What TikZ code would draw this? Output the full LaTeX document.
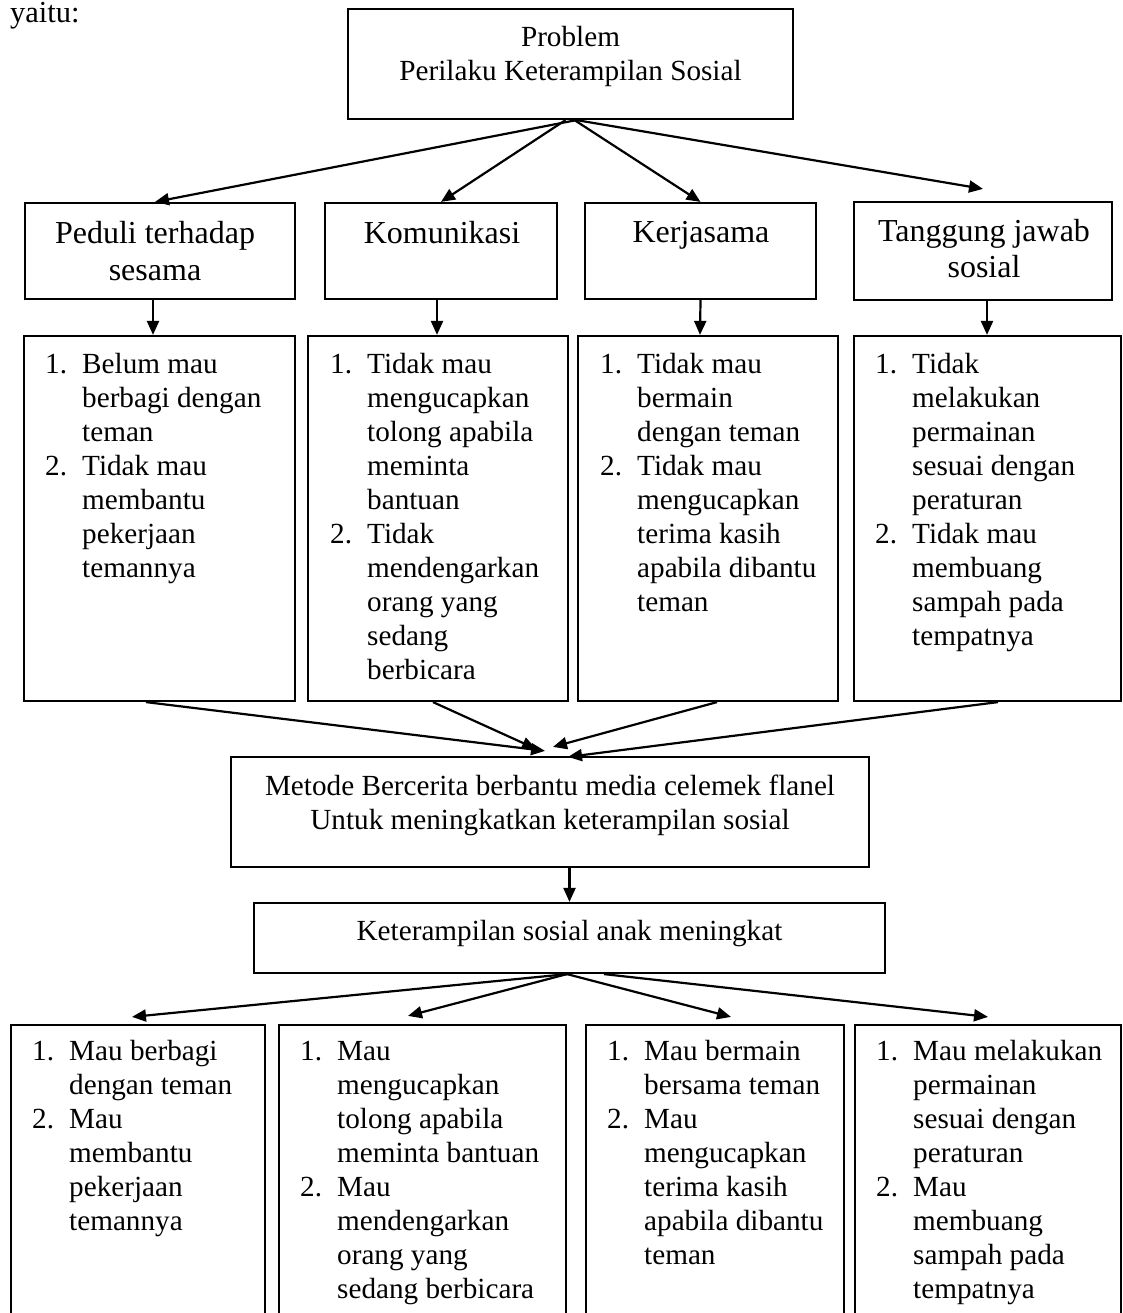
\documentclass[tikz,border=0pt]{standalone}
\usepackage{fontspec}
\setmainfont{Liberation Serif}
\usetikzlibrary{arrows.meta,fit}
\newcommand{\lstbox}[1]{\begin{tabular}[t]{@{}p{37pt}@{}l@{}}#1\end{tabular}}
\newcommand{\ctrbox}[1]{\begin{tabular}[t]{@{}c@{}}#1\end{tabular}}
\begin{document}
\begin{tikzpicture}[x=1pt,y=-1pt,
  every node/.style={font=\fontsize{29.2pt}{34pt}\selectfont},
  box/.style={draw, line width=2.2pt, inner sep=0pt},
  arr/.style={line width=2.2pt, -{Triangle[length=14pt,width=12pt]}},
  txt/.style={inner sep=0pt, anchor=base},
  big/.style={font=\fontsize{32pt}{36pt}\selectfont},
  lst/.style={inner sep=0pt, anchor=base west}]
\clip (0,0) rectangle (1123,1313);
\fill[white] (0,0) rectangle (1123,1313);

\node[lst, font=\fontsize{30.5pt}{35pt}\selectfont] (yaitu) at (10,23) {yaitu:};

% top box
\node[box, fit={(348,9) (793,119)}] (top) {};
\node[txt] (topt) at (570.5,47) {\ctrbox{Problem\\Perilaku Keterampilan Sosial}};

% row 2
\node[box, fit={(25,203) (295,299)}] (r2a) {};
\node[box, fit={(325,203) (557,299)}] (r2b) {};
\node[box, fit={(585,203) (816,299)}] (r2c) {};
\node[box, fit={(854,202) (1112,300)}] (r2d) {};
\node[txt, big] (r2at) at (155,244) {\ctrbox{Peduli terhadap\\sesama}};
\node[txt, big] (r2bt) at (442,244) {Komunikasi};
\node[txt, big] (r2ct) at (701,243) {Kerjasama};
\node[txt, big] (r2dt) at (984,242) {\ctrbox{Tanggung jawab\\sosial}};

% row 3
\node[box, fit={(24,336) (295,701)}] (r3a) {};
\node[box, fit={(308,336) (568,701)}] (r3b) {};
\node[box, fit={(578,336) (838,701)}] (r3c) {};
\node[box, fit={(854,336) (1121,701)}] (r3d) {};
\node[lst] (r3at) at (45,373) {\lstbox{1.&Belum mau\\&berbagi dengan\\&teman\\2.&Tidak mau\\&membantu\\&pekerjaan\\&temannya}};
\node[lst] (r3bt) at (330,373) {\lstbox{1.&Tidak mau\\&mengucapkan\\&tolong apabila\\&meminta\\&bantuan\\2.&Tidak\\&mendengarkan\\&orang yang\\&sedang\\&berbicara}};
\node[lst] (r3ct) at (600,373) {\lstbox{1.&Tidak mau\\&bermain\\&dengan teman\\2.&Tidak mau\\&mengucapkan\\&terima kasih\\&apabila dibantu\\&teman}};
\node[lst] (r3dt) at (875,373) {\lstbox{1.&Tidak\\&melakukan\\&permainan\\&sesuai dengan\\&peraturan\\2.&Tidak mau\\&membuang\\&sampah pada\\&tempatnya}};

% method and result
\node[box, fit={(231,757) (869,867)}] (met) {};
\node[txt] (mett) at (550,795) {\ctrbox{Metode Bercerita berbantu media celemek flanel\\Untuk meningkatkan keterampilan sosial}};
\node[box, fit={(254,903) (885,973)}] (ket) {};
\node[txt] (kett) at (569.5,940) {Keterampilan sosial anak meningkat};

% bottom row
\node[box, fit={(11,1025) (265,1340)}] (b1) {};
\node[box, fit={(279,1025) (566,1340)}] (b2) {};
\node[box, fit={(586,1025) (844,1340)}] (b3) {};
\node[box, fit={(855,1025) (1121,1340)}] (b4) {};
\node[lst] (b1t) at (32,1060) {\lstbox{1.&Mau berbagi\\&dengan teman\\2.&Mau\\&membantu\\&pekerjaan\\&temannya}};
\node[lst] (b2t) at (300,1060) {\lstbox{1.&Mau\\&mengucapkan\\&tolong apabila\\&meminta bantuan\\2.&Mau\\&mendengarkan\\&orang yang\\&sedang berbicara}};
\node[lst] (b3t) at (607,1060) {\lstbox{1.&Mau bermain\\&bersama teman\\2.&Mau\\&mengucapkan\\&terima kasih\\&apabila dibantu\\&teman}};
\node[lst] (b4t) at (876,1060) {\lstbox{1.&Mau melakukan\\&permainan\\&sesuai dengan\\&peraturan\\2.&Mau\\&membuang\\&sampah pada\\&tempatnya}};

% arrows: top -> row 2
\draw[arr] ([xshift=6pt]top.south) -- ([xshift=-5pt]r2a.north);
\draw[arr] ([xshift=-5pt]top.south) -- (r2b.north);
\draw[arr] ([xshift=4pt]top.south) -- (r2c.north);
\draw[arr] ([xshift=6pt]top.south) -- ([yshift=12pt]r2d.north);

% row 2 -> row 3
\draw[arr] ([xshift=-7pt]r2a.south) -- ([xshift=-6.5pt]r3a.north);
\draw[arr] ([xshift=-4pt]r2b.south) -- ([xshift=-1pt]r3b.north);
\draw[arr] (r2c.south) -- ([xshift=-8pt]r3c.north);
\draw[arr] ([xshift=4pt]r2d.south) -- ([xshift=-0.5pt]r3d.north);

% row 3 -> method
\draw[arr] ([xshift=-13.5pt]r3a.south) -- ([shift={(-5pt,5pt)}]met.north);
\draw[arr] ([xshift=-5pt]r3b.south) -- ([shift={(-14pt,7pt)}]met.north);
\draw[arr] ([xshift=9pt]r3c.south) -- ([shift={(3pt,9pt)}]met.north);
\draw[arr] ([xshift=10.5pt]r3d.south) -- ([shift={(18pt,-1pt)}]met.north);

% method -> result
\draw[arr] (met.south -| ket.north) -- (ket.north);

% result -> bottom
\draw[arr] ([xshift=-2.5pt]ket.south) -- ([shift={(-6pt,7pt)}]b1.north);
\draw[arr] ([xshift=-2.5pt]ket.south) -- ([shift={(-14.5pt,8pt)}]b2.north);
\draw[arr] ([xshift=-2.5pt]ket.south) -- ([shift={(16pt,7pt)}]b3.north);
\draw[arr] ([xshift=34.5pt]ket.south) -- ([yshift=7pt]b4.north);
\end{tikzpicture}
\end{document}
